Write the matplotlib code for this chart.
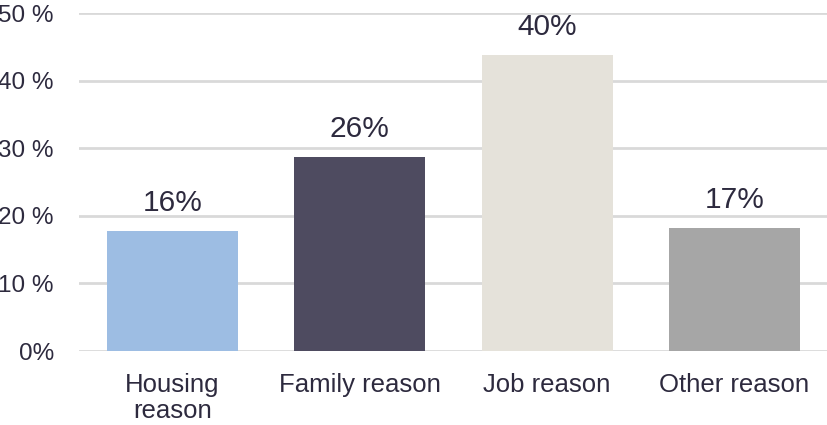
import matplotlib.pyplot as plt

# data
categories = ["Housing\nreason", "Family reason", "Job reason", "Other reason"]
bar_heights = [17.8, 28.7, 43.8, 18.2]
value_labels = ["16%", "26%", "40%", "17%"]
bar_colors = ["#9dbde3", "#4e4b60", "#e5e2da", "#a6a6a6"]
y_ticks = [0, 10, 20, 30, 40, 50]
y_tick_labels = ["0%", "10 %", "20 %", "30 %", "40 %", "50 %"]

text_color = "#2d2a3e"
plt.rcParams['font.family'] = ['Liberation Sans', 'DejaVu Sans']

fig = plt.figure(figsize=(8.28, 4.25), dpi=100)
ax = fig.add_axes([79 / 828, 74 / 425, 1 - 79 / 828, (351 - 13) / 425])

x = list(range(len(categories)))
bars = ax.bar(x, bar_heights, width=0.7, color=bar_colors, zorder=3)

for b, lab in zip(bars, value_labels):
    ax.annotate(lab, (b.get_x() + b.get_width() / 2, b.get_height()),
                xytext=(0, 10), textcoords="offset points",
                ha="center", va="bottom", fontsize=21.5, color=text_color)

ax.set_xlim(-0.5, len(categories) - 0.5)
ax.set_ylim(0, 50)
ax.set_yticks(y_ticks)
ax.set_yticklabels(y_tick_labels)
ax.set_xticks(x)
ax.set_xticklabels(categories, linespacing=1.1)
ax.tick_params(axis="y", length=0, pad=18, labelsize=17.5, labelcolor=text_color)
ax.tick_params(axis="x", length=0, pad=16, labelsize=18.5, labelcolor=text_color)

ax.grid(axis="y", color="#d9d9d9", linewidth=2, zorder=0)
ax.set_axisbelow(True)
for s in ax.spines.values():
    s.set_visible(False)

fig.savefig("out.png", dpi=100)
